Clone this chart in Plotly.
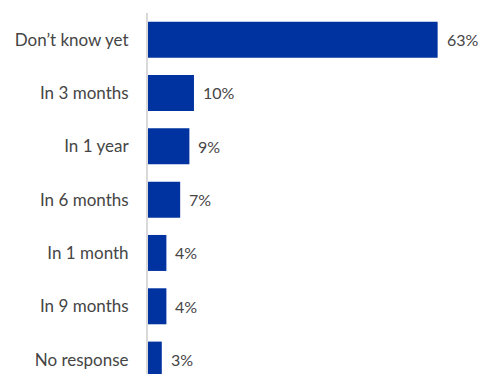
import plotly.graph_objects as go

# Survey responses: expected timing
categories = ["Don’t know yet", "In 3 months", "In 1 year", "In 6 months",
              "In 1 month", "In 9 months", "No response"]
values = [63, 10, 9, 7, 4, 4, 3]
value_labels = [f"{v}%" for v in values]

BAR_COLOR = "#0033A0"
TEXT_COLOR = "#454545"
FONT = "Lato"

fig = go.Figure()
fig.add_trace(go.Bar(
    x=values,
    y=categories,
    orientation="h",
    marker=dict(color=BAR_COLOR, line=dict(width=0)),
    hoverinfo="skip",
))

# value labels to the right of each bar
for cat, val, lab in zip(categories, values, value_labels):
    fig.add_annotation(
        x=val, y=cat, text=lab, showarrow=False,
        xanchor="left", yanchor="middle", xshift=7,
        font=dict(family=FONT, size=16, color=TEXT_COLOR),
    )

fig.update_layout(
    width=479, height=374,
    margin=dict(l=148, r=0, t=13, b=0),
    paper_bgcolor="white", plot_bgcolor="white",
    bargap=0.325,
    showlegend=False,
    font=dict(family=FONT, size=17, color=TEXT_COLOR),
)
fig.update_xaxes(
    range=[0, 72], visible=False, showgrid=False, zeroline=False,
)
fig.update_yaxes(
    type="category",
    range=[6.27, -0.5],
    showgrid=False, zeroline=False,
    showline=True, linecolor="#d9d9d9", linewidth=2,
    ticks="", ticklabelstandoff=14,
    tickfont=dict(family=FONT, size=17, color=TEXT_COLOR),
)

fig.write_html("out.html", config={"displayModeBar": False})
